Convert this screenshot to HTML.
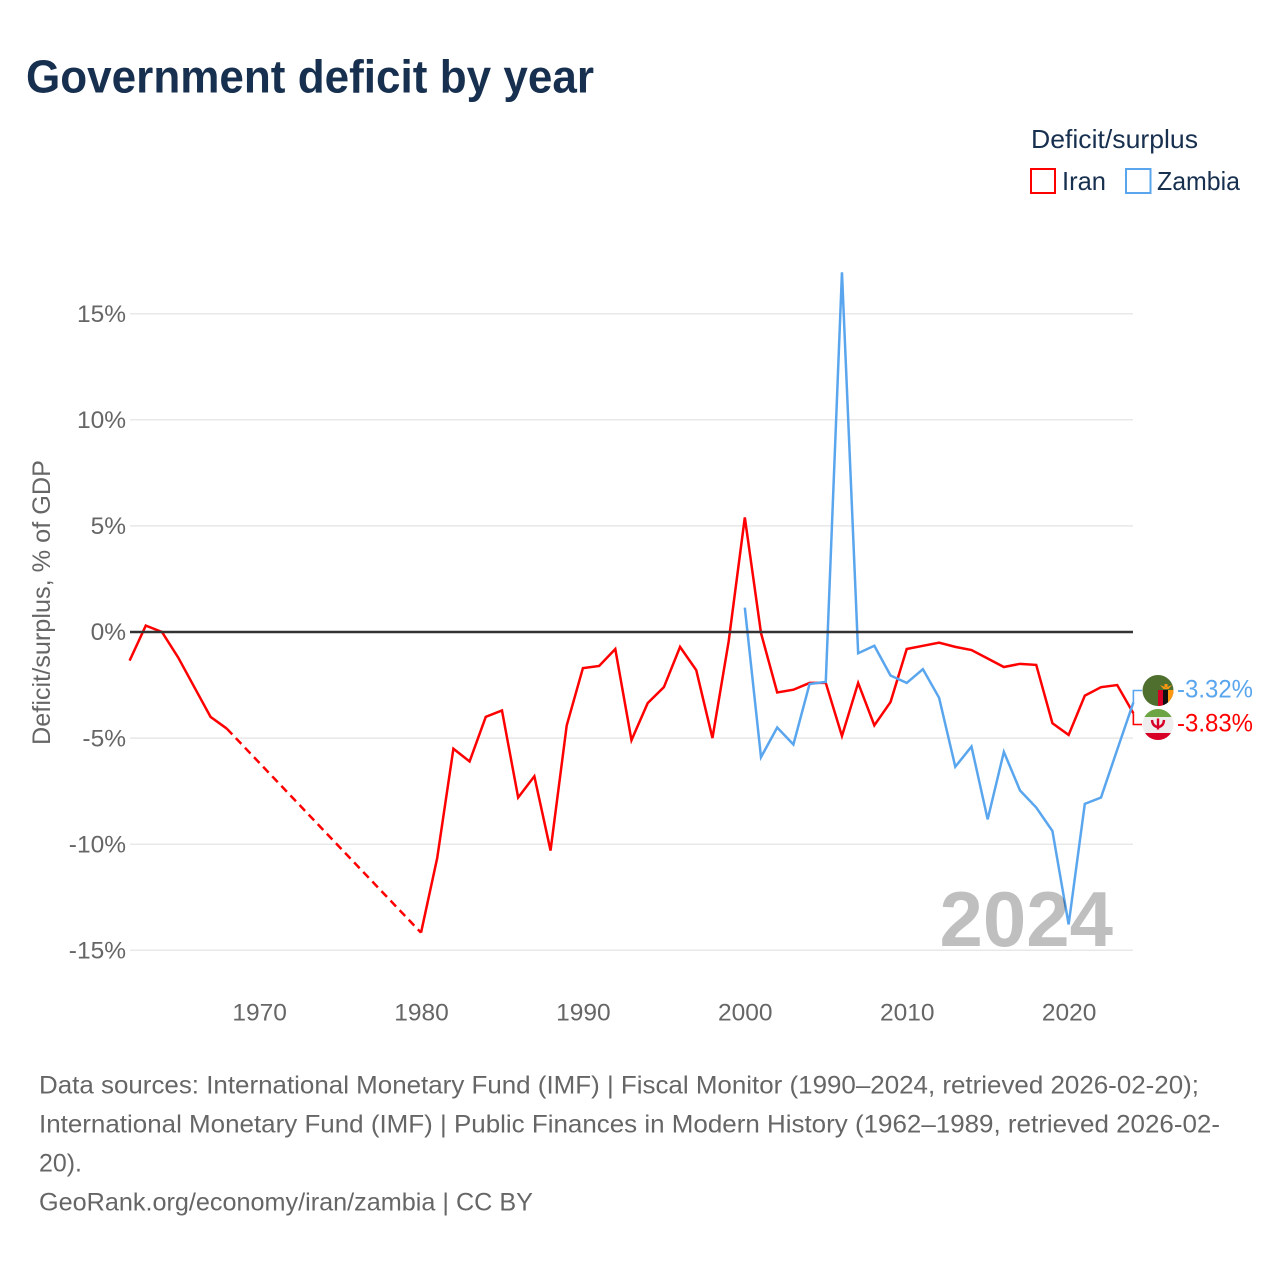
<!DOCTYPE html>
<html lang="en">
<head>
<meta charset="utf-8">
<title>Government deficit by year</title>
<style>
html,body{margin:0;padding:0;background:#fff}
svg{display:block;font-family:"Liberation Sans",sans-serif}
</style>
</head>
<body>
<svg id="chart" xmlns="http://www.w3.org/2000/svg" width="1280" height="1280" viewBox="0 0 1280 1280">
  <defs>
    <clipPath id="clip-zambia"><circle cx="1158" cy="690.5" r="15.5"/></clipPath>
    <clipPath id="clip-iran"><circle cx="1158" cy="724.5" r="15.5"/></clipPath>
  </defs>
  <rect x="0" y="0" width="1280" height="1280" fill="#fff"/>
  <text x="26" y="92.5" font-size="46" font-weight="700" fill="#18304f" textLength="568" lengthAdjust="spacingAndGlyphs">Government deficit by year</text>

  <g>
    <text x="1031" y="148" font-size="26" fill="#18304f" textLength="167" lengthAdjust="spacingAndGlyphs">Deficit/surplus</text>
    <rect x="1031" y="169" width="24" height="24" fill="none" stroke="#ff0000" stroke-width="2"/>
    <text x="1062" y="190" font-size="26" fill="#18304f" textLength="44" lengthAdjust="spacingAndGlyphs">Iran</text>
    <rect x="1126" y="169" width="24.5" height="24" fill="none" stroke="#5aa6ee" stroke-width="2"/>
    <text x="1157" y="190" font-size="26" fill="#18304f" textLength="83" lengthAdjust="spacingAndGlyphs">Zambia</text>
  </g>

  <text transform="translate(50,745) rotate(-90)" x="0" y="0" font-size="25" fill="#666" textLength="285" lengthAdjust="spacingAndGlyphs">Deficit/surplus, % of GDP</text>

  <g id="grid"></g>
  <g id="yticks"></g>
  <g id="xticks"></g>
  <g id="series"></g>
  <g id="zero"></g>

  <text x="1113" y="946" text-anchor="end" font-size="78" font-weight="700" fill="#000" fill-opacity="0.25">2024</text>

  <g clip-path="url(#clip-zambia)">
    <rect x="1142" y="675" width="32" height="32" fill="#4e6f2d"/>
    <rect x="1158" y="690" width="5" height="16" fill="#d80027"/>
    <rect x="1163" y="690" width="5" height="16" fill="#111"/>
    <rect x="1168" y="690" width="6" height="16" fill="#ff9811"/>
    <path d="M1160 685 L1166 687.5 L1172 685 L1168.5 689 L1163.5 689 Z M1164.5 684 h3 v3 h-3 Z" fill="#ff9811"/>
  </g>
  <g clip-path="url(#clip-iran)">
    <rect x="1142" y="709" width="32" height="32" fill="#eeeeee"/>
    <rect x="1142" y="709" width="32" height="8" fill="#6da544"/>
    <rect x="1142" y="733" width="32" height="8" fill="#d80027"/>
    <path d="M1152 720 q0.5 6.5 6 7 q5.5 -0.5 6 -7 M1158 718.5 v11" fill="none" stroke="#d80027" stroke-width="2.4"/>
  </g>
  <g id="labels"></g>

  <g font-size="25" fill="#666">
    <text x="39" y="1093.5" textLength="1160" lengthAdjust="spacingAndGlyphs">Data sources: International Monetary Fund (IMF) | Fiscal Monitor (1990–2024, retrieved 2026-02-20);</text>
    <text x="39" y="1132.5" textLength="1181" lengthAdjust="spacingAndGlyphs">International Monetary Fund (IMF) | Public Finances in Modern History (1962–1989, retrieved 2026-02-</text>
    <text x="39" y="1171.5" textLength="43" lengthAdjust="spacingAndGlyphs">20).</text>
    <text x="39" y="1210.5" textLength="494" lengthAdjust="spacingAndGlyphs">GeoRank.org/economy/iran/zambia | CC BY</text>
  </g>
</svg>
<script>
const firstYear = 1962;
const iranValues = [
  -1.35, 0.3, 0, -1.2, -2.6, -4, -4.55,
  null, null, null, null, null, null, null, null, null, null, null,
  -14.17, -10.65, -5.5, -6.1, -4, -3.7, -7.8, -6.8, -10.3, -4.4,
  -1.7, -1.6, -0.8, -5.1, -3.35, -2.6, -0.7, -1.8, -5, -0.45,
  5.4, -0.05, -2.85, -2.72, -2.4, -2.4, -4.9, -2.4, -4.4, -3.3,
  -0.8, -0.65, -0.5, -0.7, -0.85, -1.25, -1.65, -1.5, -1.55, -4.3,
  -4.85, -3, -2.6, -2.5, -3.83
];
const zambiaYears = [2000, 2001, 2002, 2003, 2004, 2005, 2006, 2007, 2008, 2009, 2010, 2011, 2012, 2013, 2014, 2015, 2016, 2017, 2018, 2019, 2020, 2021, 2022, 2023, 2024];
const zambiaValues = [1.15, -5.9, -4.5, -5.3, -2.45, -2.35, 16.95, -1, -0.65, -2.05, -2.4, -1.75, -3.1, -6.35, -5.4, -8.83, -5.65, -7.47, -8.27, -9.38, -13.78, -8.1, -7.8, -5.55, -3.32];
const yTickValues = [15, 10, 5, -5, -10, -15];
const zeroTick = [0];
const xTickYears = [1970, 1980, 1990, 2000, 2010, 2020];

const NS = 'http://www.w3.org/2000/svg';
function xScale(year) { return 129.6 + (year - 1962) * 16.19; }
function yScale(v) { return 632 - v * 21.22; }
function make(tag, attrs, parent, text) {
  const el = document.createElementNS(NS, tag);
  for (const k in attrs) el.setAttribute(k, attrs[k]);
  if (text !== undefined) el.textContent = text;
  parent.appendChild(el);
  return el;
}
const grid = document.getElementById('grid');
const yticks = document.getElementById('yticks');
const xticks = document.getElementById('xticks');
const series = document.getElementById('series');
const zero = document.getElementById('zero');
const labels = document.getElementById('labels');

yTickValues.concat(zeroTick).forEach(function (v) {
  if (v !== 0) {
    const line = make('line', {x1: 130, x2: 1133, y1: yScale(v), y2: yScale(v), stroke: '#e8e8e8', 'stroke-width': 1.5}, grid);
    
    
  }
  const t = make('text', {x: 126, y: yScale(v) + 8.2, 'text-anchor': 'end', 'font-size': 24.5, fill: '#666'}, yticks, v + '%');
  
  
});
xTickYears.forEach(function (year) {
  const t = make('text', {x: xScale(year) + 0.5, y: 1020.5, 'text-anchor': 'middle', 'font-size': 24.5, fill: '#666'}, xticks, year);
  
  
});

function drawSeries(years, values, color, name) {
  let run = [];
  let last = null;
  function flush() {
    if (run.length > 1) {
      const solid = make('polyline', {points: run.join(' '), fill: 'none', stroke: color, 'stroke-width': 2.5, 'stroke-linejoin': 'miter'}, series);
      
      
    }
    run = [];
  }
  years.forEach(function (year, i) {
    const v = values[i];
    if (v === null) { flush(); return; }
    const pt = xScale(year) + ',' + yScale(v);
    if (last && year - last.year > 1) {
      const gap = make('line', {x1: xScale(last.year), y1: yScale(last.v), x2: xScale(year), y2: yScale(v), stroke: color, 'stroke-width': 2.5, 'stroke-dasharray': '8 5.2'}, series);
      
      
    }
    run.push(pt);
    last = {year: year, v: v};
  });
  flush();
}
const iranYears = iranValues.map(function (_, i) { return firstYear + i; });
drawSeries(iranYears, iranValues, '#ff0000', 'iran');
drawSeries(zambiaYears, zambiaValues, '#5aa6ee', 'zambia');

const zeroLine = make('line', {x1: 130, x2: 1133, y1: yScale(0), y2: yScale(0), stroke: '#333', 'stroke-width': 2.4}, zero);



function endLabel(value, color, labelY, name) {
  const px = xScale(2024);
  const py = yScale(value);
  const c = make('polyline', {points: px + ',' + py + ' ' + px + ',' + labelY + ' 1142,' + labelY, fill: 'none', stroke: color, 'stroke-width': 1.6}, labels);
  
  
  const t = make('text', {x: 1177, y: labelY + 7, 'font-size': 25, fill: color, textLength: 76, lengthAdjust: 'spacingAndGlyphs'}, labels, value.toFixed(2) + '%');
  
  
}
endLabel(zambiaValues[zambiaValues.length - 1], '#5aa6ee', 690.5, 'zambia');
endLabel(iranValues[iranValues.length - 1], '#ff0000', 724.5, 'iran');
</script>
</body>
</html>
